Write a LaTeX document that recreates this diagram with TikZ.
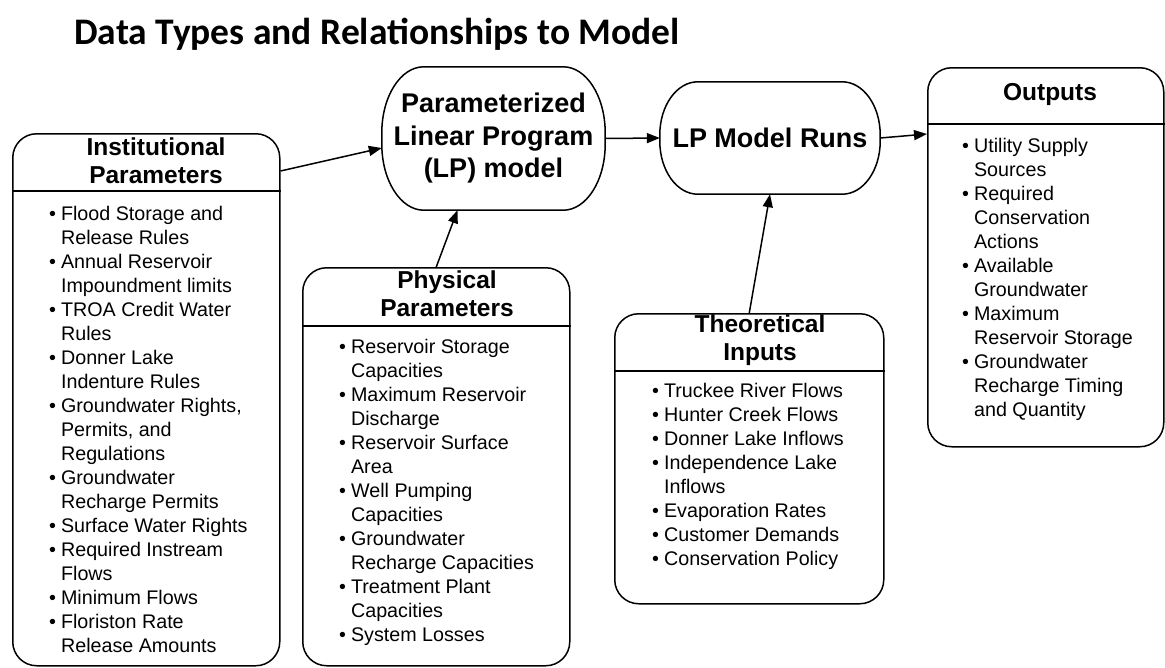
\documentclass[tikz,border=0pt]{standalone}
\usepackage{fontspec}
\setmainfont{Liberation Sans}
\newfontfamily\titlefont{Carlito}
\usetikzlibrary{arrows.meta}

% rounded box whose corners are quarter ellipses (x radius #2, y radius #3)
\newcommand\ovalframe[3]{%
  \draw[line width=1.5pt]
    ([xshift=#2]#1.north west) -- ([xshift=-#2]#1.north east)
    arc[start angle=90,end angle=0,x radius=#2,y radius=#3]
    -- ([yshift=#3]#1.south east)
    arc[start angle=0,end angle=-90,x radius=#2,y radius=#3]
    -- ([xshift=-#2]#1.south east) -- ([xshift=#2]#1.south west)
    arc[start angle=270,end angle=180,x radius=#2,y radius=#3]
    -- ([yshift=-#3]#1.north west)
    arc[start angle=180,end angle=90,x radius=#2,y radius=#3] -- cycle;}

\tikzset{
  panel/.style={draw, line width=1.5pt, rounded corners=24pt, inner sep=0pt,
    anchor=north west},
  divider/.style={line width=1.5pt},
  hdr/.style={inner sep=0pt, anchor=base,
    font=\bfseries\fontsize{24.5}{28.5}\selectfont},
  lst/.style={inner sep=0pt, anchor=base west,
    font=\fontsize{19.7}{24}\selectfont},
  term/.style={inner sep=0pt, align=center,
    font=\bfseries\fontsize{27}{32.5}\selectfont},
  conn/.style={line width=1.5pt, -{Triangle[length=13pt,width=10pt]}},
}

\begin{document}
\begin{tikzpicture}[x=1pt,y=-1pt]
\useasboundingbox (0,0) rectangle (1165,667);

% title
\node[anchor=base west, inner sep=0pt,
  font=\titlefont\bfseries\fontsize{37.5}{40}\selectfont] (title) at (74,44)
  {Data Types and Relationships to Model};

% panels
\node[panel, minimum width=267pt, minimum height=532pt] (inst) at (12,133) {};
\node[panel, minimum width=267pt, minimum height=398pt] (phys) at (302,267) {};
\node[panel, minimum width=269pt, minimum height=290pt] (theo) at (614,313) {};
\node[panel, minimum width=236pt, minimum height=379pt] (outp) at (927,67) {};

\draw[divider] ([yshift=-58pt]inst.north west) -- ([yshift=-58pt]inst.north east);
\draw[divider] ([yshift=-59pt]phys.north west) -- ([yshift=-59pt]phys.north east);
\draw[divider] ([yshift=-58pt]theo.north west) -- ([yshift=-58pt]theo.north east);
\draw[divider] ([yshift=-57pt]outp.north west) -- ([yshift=-57pt]outp.north east);

% panel headers
\node[hdr] (insth) at (156,155)
  {\begin{tabular}[t]{@{}c@{}}Institutional\\Parameters\end{tabular}};
\node[hdr] (physh) at (447,288)
  {\begin{tabular}[t]{@{}c@{}}Physical\\Parameters\end{tabular}};
\node[hdr] (theoh) at (760,332)
  {\begin{tabular}[t]{@{}c@{}}Theoretical\\Inputs\end{tabular}};
\node[hdr] (outph) at (1050,100) {Outputs};

% panel lists
\node[lst] (instb) at (49,220) {\begin{tabular}[t]{@{}l@{\hspace{5pt}}l@{}}
\textbullet & Flood Storage and\\
            & Release Rules\\
\textbullet & Annual Reservoir\\
            & Impoundment limits\\
\textbullet & TROA Credit Water\\
            & Rules\\
\textbullet & Donner Lake\\
            & Indenture Rules\\
\textbullet & Groundwater Rights,\\
            & Permits, and\\
            & Regulations\\
\textbullet & Groundwater\\
            & Recharge Permits\\
\textbullet & Surface Water Rights\\
\textbullet & Required Instream\\
            & Flows\\
\textbullet & Minimum Flows\\
\textbullet & Floriston Rate\\
            & Release Amounts
\end{tabular}};

\node[lst] (physb) at (339,353) {\begin{tabular}[t]{@{}l@{\hspace{5pt}}l@{}}
\textbullet & Reservoir Storage\\
            & Capacities\\
\textbullet & Maximum Reservoir\\
            & Discharge\\
\textbullet & Reservoir Surface\\
            & Area\\
\textbullet & Well Pumping\\
            & Capacities\\
\textbullet & Groundwater\\
            & Recharge Capacities\\
\textbullet & Treatment Plant\\
            & Capacities\\
\textbullet & System Losses
\end{tabular}};

\node[lst] (theob) at (652,397) {\begin{tabular}[t]{@{}l@{\hspace{5pt}}l@{}}
\textbullet & Truckee River Flows\\
\textbullet & Hunter Creek Flows\\
\textbullet & Donner Lake Inflows\\
\textbullet & Independence Lake\\
            & Inflows\\
\textbullet & Evaporation Rates\\
\textbullet & Customer Demands\\
\textbullet & Conservation Policy
\end{tabular}};

\node[lst] (outpb) at (962,152) {\begin{tabular}[t]{@{}l@{\hspace{5pt}}l@{}}
\textbullet & Utility Supply\\
            & Sources\\
\textbullet & Required\\
            & Conservation\\
            & Actions\\
\textbullet & Available\\
            & Groundwater\\
\textbullet & Maximum\\
            & Reservoir Storage\\
\textbullet & Groundwater\\
            & Recharge Timing\\
            & and Quantity
\end{tabular}};

% model terminators
\node[term, minimum width=223pt, minimum height=143pt] (lp) at (493.5,138.5)
  {Parameterized\\Linear Program\\(LP) model};
\ovalframe{lp}{42pt}{66pt}
\node[term, minimum width=220pt, minimum height=112pt] (runs) at (770,138)
  {LP Model Runs};
\ovalframe{runs}{38pt}{53pt}

% connectors
\draw[conn] ([yshift=-38pt]inst.north east) -- ([yshift=-9.5pt]lp.west);
\draw[conn] (phys.north) -- ([xshift=-36pt]lp.south);
\draw[conn] (lp.east) -- (runs.west);
\draw[conn] (theo.north) -- (runs.south);
\draw[conn] (runs.east) -- ([yshift=-67pt]outp.north west);
\end{tikzpicture}
\end{document}
